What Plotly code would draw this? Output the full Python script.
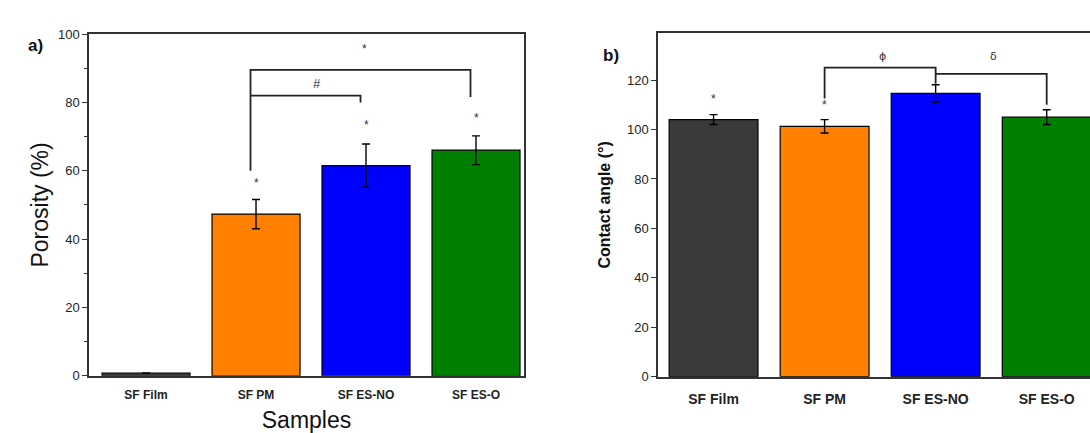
import plotly.graph_objects as go

# ---------------- data ----------------
samples = ["SF Film", "SF PM", "SF ES-NO", "SF ES-O"]
bar_colors = ["#3a3a3a", "#ff7f00", "#0000ff", "#007f00"]

porosity = [0.8, 47.3, 61.5, 66.0]
porosity_err = [0.0, 4.3, 6.3, 4.2]

contact_angle = [104.0, 101.3, 114.6, 105.0]
contact_angle_err = [2.0, 2.7, 3.5, 3.0]

fig = go.Figure()

fig.add_trace(go.Bar(
    x=list(range(4)), y=porosity, width=0.8,
    marker=dict(color=bar_colors, line=dict(color="black", width=1.2)),
    error_y=dict(type="data", array=porosity_err, color="black", thickness=1.4, width=4),
    xaxis="x", yaxis="y", showlegend=False))

fig.add_trace(go.Bar(
    x=list(range(4)), y=contact_angle, width=0.8,
    marker=dict(color=bar_colors, line=dict(color="black", width=1.2)),
    error_y=dict(type="data", array=contact_angle_err, color="black", thickness=1.4, width=4),
    xaxis="x2", yaxis="y2", showlegend=False))

FONT = "Liberation Sans, Arial"
fig.update_layout(
    width=1090, height=433,
    margin=dict(l=0, r=0, t=0, b=0),
    paper_bgcolor="white", plot_bgcolor="white",
    bargap=0.2,
    xaxis=dict(domain=[0.0817, 0.4807], range=[-0.518, 3.436], anchor="y",
               tickvals=list(range(4)), ticktext=samples,
               tickfont=dict(family=FONT, size=12, color="#222", weight="bold"),
               ticklabelstandoff=7,
               showline=True, linecolor="#333", linewidth=1.5, mirror=True,
               ticks="", showgrid=False, zeroline=False,
               title=dict(text="Samples", font=dict(family=FONT, size=23, color="#111"), standoff=12)),
    yaxis=dict(domain=[0.1178, 0.9353], range=[0, 100], anchor="x",
               tickvals=[0, 20, 40, 60, 80, 100],
               tickfont=dict(family=FONT, size=13, color="#222"),
               showline=True, linecolor="#333", linewidth=1.5, mirror=True,
               ticks="outside", ticklen=5, tickwidth=1.2, tickcolor="#333",
               minor=dict(tickvals=[10, 30, 50, 70, 90], ticks="outside", ticklen=3, tickcolor="#333"),
               showgrid=False, zeroline=False,
               title=dict(text="Porosity (%)", font=dict(family=FONT, size=23, color="#111"), standoff=3)),
    xaxis2=dict(domain=[0.6037, 1.0], range=[-0.5, 3.39], anchor="y2",
                tickvals=list(range(4)), ticktext=samples,
                tickfont=dict(family=FONT, size=14, color="#222", weight="bold"),
                ticklabelstandoff=9,
                showline=True, linecolor="#333", linewidth=1.5, mirror=True,
                ticks="", showgrid=False, zeroline=False),
    yaxis2=dict(domain=[0.1155, 0.9376], range=[0, 139], anchor="x2",
                tickvals=[0, 20, 40, 60, 80, 100, 120],
                tickfont=dict(family=FONT, size=13, color="#222"),
                showline=True, linecolor="#333", linewidth=1.5, mirror=False,
                ticks="outside", ticklen=5, tickwidth=1.2, tickcolor="#333",
                showgrid=False, zeroline=False,
                title=dict(text="Contact angle (°)", font=dict(family=FONT, size=16, color="#111", weight="bold"), standoff=12)),
)

# ---------------- significance markers ----------------
line_style = dict(color="#222", width=1.8)

def bracket(xa, ya_start, xb, yb_end, ytop, xr, yr):
    fig.add_shape(type="path",
                  path=f"M {xa} {ya_start} L {xa} {ytop} L {xb} {ytop} L {xb} {yb_end}",
                  xref=xr, yref=yr, line=line_style)

# panel a
bracket(0.95, 60, 2.95, 81.6, 89.5, "x", "y")
bracket(0.95, 82, 1.95, 80, 82, "x", "y")
star_font = dict(family=FONT, size=12, color="#333")
for xi, yi in [(1, 56.5), (2, 73.5), (3, 75.5)]:
    fig.add_annotation(x=xi, y=yi, text="*", showarrow=False, xref="x", yref="y", font=star_font)
fig.add_annotation(x=1.99, y=95.5, text="*", showarrow=False, xref="x", yref="y", font=star_font)
fig.add_annotation(x=1.55, y=85.5, text="#", showarrow=False, xref="x", yref="y", font=dict(family=FONT, size=13, color="#333"))

# panel b
bracket(1.0, 112.5, 2.0, 118.5, 125, "x2", "y2")
bracket(2.0, 122.5, 3.0, 110, 122.5, "x2", "y2")
for xi, yi in [(0, 112.5), (1, 110)]:
    fig.add_annotation(x=xi, y=yi, text="*", showarrow=False, xref="x2", yref="y2", font=star_font)
fig.add_annotation(x=1.52, y=129.5, text="ϕ", showarrow=False, xref="x2", yref="y2", font=dict(family="DejaVu Sans", size=11, color="#333"))
fig.add_annotation(x=2.52, y=129.5, text="δ", showarrow=False, xref="x2", yref="y2", font=dict(family="DejaVu Sans", size=11, color="#333"))

# panel letters
fig.add_annotation(x=26/1090, y=1 - 28/433, xref="paper", yref="paper", text="<b>a)</b>", showarrow=False,
                   font=dict(family=FONT, size=17, color="#111"))
fig.add_annotation(x=611/1090, y=1 - 38/433, xref="paper", yref="paper", text="<b>b)</b>", showarrow=False,
                   font=dict(family=FONT, size=17, color="#111"))

fig.write_html("out.html")
